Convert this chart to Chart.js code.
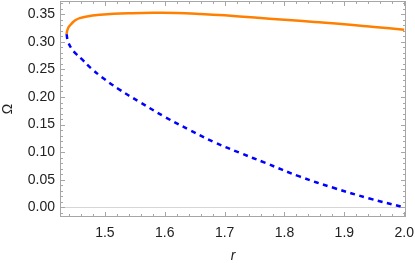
<!DOCTYPE html>
<html>
<head>
<meta charset="utf-8">
<script src="https://cdn.jsdelivr.net/npm/chart.js@4.4.1/dist/chart.umd.min.js"></script>
<style>
  html, body { margin: 0; padding: 0; background: #fff; }
  #wrap { width: 415px; height: 263px; }
</style>
</head>
<body>
<div id="wrap"><canvas id="chart"></canvas></div>
<script>
// upper branch (solid orange)
const upperR = [1.436, 1.437, 1.439, 1.442, 1.447, 1.452, 1.458, 1.470, 1.492, 1.515, 1.545, 1.580, 1.620, 1.660, 1.700, 1.750, 1.800, 1.850, 1.900, 1.950, 2.000];
const upperOmega = [0.314, 0.320, 0.326, 0.330, 0.336, 0.340, 0.343, 0.346, 0.349, 0.351, 0.352, 0.3525, 0.3523, 0.3505, 0.348, 0.344, 0.340, 0.336, 0.332, 0.327, 0.322];

// lower branch (dashed blue)
const lowerR = [1.436, 1.438, 1.444, 1.451, 1.461, 1.477, 1.495, 1.522, 1.558, 1.600, 1.642, 1.683, 1.725, 1.767, 1.825, 1.883, 1.942, 2.000];
const lowerOmega = [0.314, 0.302, 0.288, 0.279, 0.269, 0.252, 0.236, 0.215, 0.191, 0.164, 0.140, 0.118, 0.099, 0.081, 0.056, 0.035, 0.016, 0.000];

const xTicks = [1.5, 1.6, 1.7, 1.8, 1.9, 2.0];
const yTicks = [0.00, 0.05, 0.10, 0.15, 0.20, 0.25, 0.30, 0.35];

const FONT = 'Liberation Sans, Arial, sans-serif';
const frameColor = '#a6a6a6';

function toPoints(xs, ys) {
  return xs.map((x, i) => ({ x, y: ys[i] }));
}

// Mathematica-style frame: box, inward ticks on all four sides, zero line
const framePlugin = {
  id: 'frame',
  beforeDatasetsDraw(chart) {
    const { ctx, chartArea, scales } = chart;
    const y0 = scales.y.getPixelForValue(0);
    ctx.save();
    ctx.strokeStyle = '#d6d6d6';
    ctx.lineWidth = 1;
    ctx.beginPath();
    ctx.moveTo(chartArea.left, Math.round(y0) + 0.5);
    ctx.lineTo(chartArea.right, Math.round(y0) + 0.5);
    ctx.stroke();
    ctx.restore();
  },
  afterDraw(chart) {
    const { ctx, chartArea: a, scales } = chart;
    const { x, y } = scales;
    ctx.save();
    ctx.strokeStyle = frameColor;
    ctx.lineWidth = 1;
    ctx.strokeRect(a.left + 0.5, a.top + 0.5, a.right - a.left - 1, a.bottom - a.top - 1);

    ctx.beginPath();
    for (let i = 0; i * 0.02 + 1.42 <= x.max + 1e-9; i++) {
      const v = 1.42 + i * 0.02;
      if (v < x.min) continue;
      const major = Math.abs(v * 10 - Math.round(v * 10)) < 1e-6;
      const len = major ? 5 : 3;
      const px = Math.round(x.getPixelForValue(v)) + 0.5;
      ctx.moveTo(px, a.bottom); ctx.lineTo(px, a.bottom - len);
      ctx.moveTo(px, a.top); ctx.lineTo(px, a.top + len);
    }
    for (let i = -2; i * 0.01 <= y.max + 1e-9; i++) {
      const v = i * 0.01;
      if (v < y.min) continue;
      const major = i % 5 === 0;
      const len = major ? 5 : 3;
      const py = Math.round(y.getPixelForValue(v)) + 0.5;
      ctx.moveTo(a.left, py); ctx.lineTo(a.left + len, py);
      ctx.moveTo(a.right, py); ctx.lineTo(a.right - len, py);
    }
    ctx.stroke();
    ctx.restore();
  }
};

new Chart(document.getElementById('chart'), {
  type: 'scatter',
  data: {
    datasets: [
      {
        data: toPoints(upperR, upperOmega),
        showLine: true,
        borderColor: '#ff8000',
        borderWidth: 2.5,
        pointRadius: 0,
        tension: 0.4,
      },
      {
        data: toPoints(lowerR, lowerOmega),
        showLine: true,
        borderColor: '#0000ff',
        borderWidth: 2.5,
        borderDash: [5, 4.5],
        pointRadius: 0,
        tension: 0.4,
      },
    ],
  },
  options: {
    responsive: true,
    maintainAspectRatio: false,
    animation: false,
    devicePixelRatio: 1,
    layout: { padding: { top: 1, right: 9, left: 0, bottom: 0 } },
    plugins: { legend: { display: false }, tooltip: { enabled: false } },
    scales: {
      x: {
        type: 'linear',
        min: 1.425,
        max: 2.003,
        afterBuildTicks: (axis) => { axis.ticks = xTicks.map((v) => ({ value: v })); },
        afterFit: (s) => { s.height = 46; s.paddingLeft = 0; s.paddingRight = 0; },
        grid: { display: false, drawTicks: false },
        border: { display: false },
        ticks: {
          callback: (v) => Number(v).toFixed(1),
          font: { family: FONT, size: 14 },
          color: '#222',
          padding: 8,
          maxRotation: 0,
          autoSkip: false,
        },
        title: {
          display: true,
          text: 'r',
          color: '#222',
          font: { family: FONT, size: 14, style: 'italic', lineHeight: 1 },
          padding: 0,
        },
      },
      y: {
        type: 'linear',
        min: -0.0175,
        max: 0.374,
        afterBuildTicks: (axis) => { axis.ticks = yTicks.map((v) => ({ value: v })); },
        afterFit: (s) => { s.width = 60; s.paddingTop = 0; s.paddingBottom = 0; },
        grid: { display: false, drawTicks: false },
        border: { display: false },
        ticks: {
          callback: (v) => Number(v).toFixed(2),
          font: { family: FONT, size: 14 },
          color: '#222',
          padding: 5,
          autoSkip: false,
        },
        title: {
          display: true,
          text: 'Ω',
          color: '#222',
          font: { family: FONT, size: 14 },
          padding: 0,
        },
      },
    },
  },
  plugins: [framePlugin],
});
</script>
</body>
</html>
